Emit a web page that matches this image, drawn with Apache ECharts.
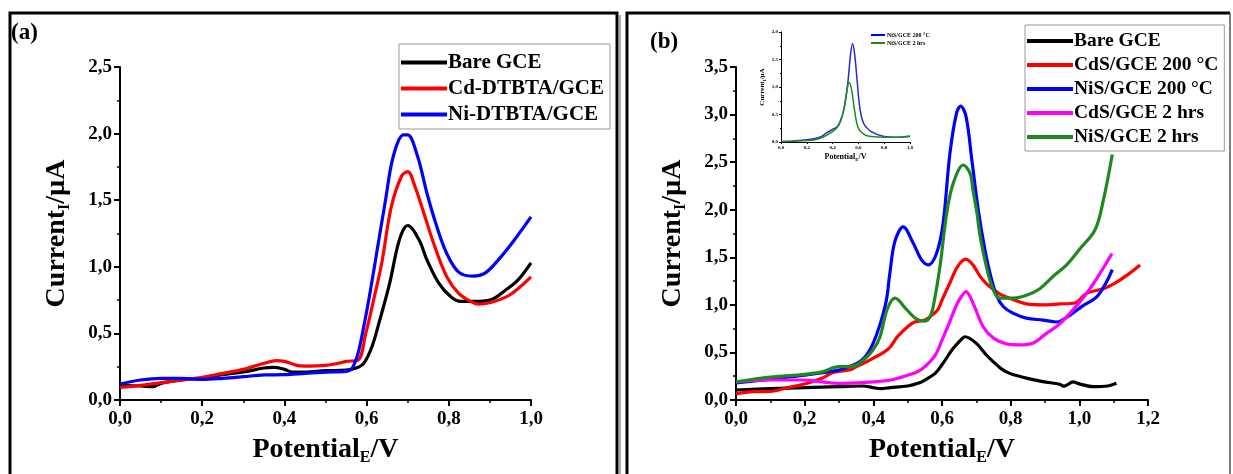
<!DOCTYPE html>
<html>
<head>
<meta charset="utf-8">
<script src="https://cdn.jsdelivr.net/npm/echarts@6/dist/echarts.min.js"></script>
<style>
  html, body { margin: 0; background: #fff; }
  #chart { width: 1233px; height: 474px; }
</style>
</head>
<body>
<div id="chart"></div>
<script>
// panel (a) - DPV curves, [potential V, current µA]
const bareA = [[0,0.11],[0.05,0.105],[0.08,0.10],[0.1,0.125],[0.15,0.15],[0.2,0.165],[0.25,0.19],[0.3,0.21],[0.35,0.24],[0.375,0.245],[0.4,0.23],[0.42,0.21],[0.45,0.21],[0.5,0.22],[0.55,0.225],[0.575,0.24],[0.593,0.275],[0.613,0.40],[0.632,0.60],[0.656,0.875],[0.675,1.15],[0.688,1.27],[0.70,1.31],[0.728,1.20],[0.747,1.05],[0.776,0.875],[0.805,0.775],[0.829,0.74],[0.862,0.74],[0.9,0.75],[0.94,0.83],[0.968,0.90],[1.0,1.03]]
const cdDtbta = [[0,0.095],[0.05,0.11],[0.1,0.13],[0.15,0.15],[0.2,0.17],[0.25,0.20],[0.3,0.23],[0.35,0.275],[0.38,0.295],[0.4,0.29],[0.43,0.26],[0.45,0.255],[0.5,0.26],[0.53,0.275],[0.55,0.29],[0.579,0.30],[0.598,0.50],[0.617,0.75],[0.637,1.03],[0.66,1.45],[0.685,1.68],[0.70,1.715],[0.718,1.60],[0.742,1.375],[0.766,1.15],[0.795,0.925],[0.824,0.80],[0.853,0.74],[0.872,0.72],[0.91,0.74],[0.949,0.79],[1.0,0.925]]
const niDtbta = [[0,0.12],[0.05,0.15],[0.1,0.163],[0.15,0.163],[0.2,0.155],[0.25,0.163],[0.3,0.175],[0.35,0.188],[0.4,0.19],[0.45,0.2],[0.5,0.21],[0.55,0.215],[0.565,0.24],[0.579,0.35],[0.593,0.55],[0.608,0.80],[0.627,1.15],[0.646,1.50],[0.665,1.83],[0.69,1.99],[0.70,1.99],[0.724,1.83],[0.747,1.55],[0.771,1.30],[0.795,1.10],[0.824,0.96],[0.858,0.93],[0.887,0.95],[0.92,1.05],[0.959,1.20],[1.0,1.375]]

// panel (b)
const bareB = [[0,0.105],[0.1,0.12],[0.2,0.13],[0.3,0.14],[0.37,0.147],[0.4,0.13],[0.42,0.12],[0.45,0.13],[0.5,0.147],[0.53,0.175],[0.55,0.21],[0.58,0.28],[0.6,0.37],[0.63,0.53],[0.66,0.65],[0.667,0.665],[0.7,0.595],[0.73,0.47],[0.75,0.40],[0.772,0.33],[0.797,0.28],[0.83,0.245],[0.846,0.23],[0.894,0.193],[0.943,0.165],[0.956,0.145],[0.982,0.19],[1.0,0.17],[1.04,0.14],[1.083,0.147],[1.108,0.175]]
const cds200 = [[0,0.065],[0.05,0.087],[0.1,0.09],[0.15,0.13],[0.2,0.168],[0.25,0.228],[0.28,0.287],[0.3,0.30],[0.33,0.315],[0.35,0.35],[0.38,0.40],[0.4,0.44],[0.43,0.50],[0.45,0.56],[0.47,0.665],[0.5,0.77],[0.52,0.82],[0.55,0.84],[0.57,0.89],[0.588,0.95],[0.6,1.05],[0.623,1.23],[0.645,1.40],[0.669,1.48],[0.69,1.42],[0.711,1.30],[0.73,1.22],[0.75,1.16],[0.77,1.11],[0.797,1.07],[0.846,1.01],[0.894,1.0],[0.943,1.01],[0.987,1.02],[1.021,1.12],[1.07,1.17],[1.1,1.22],[1.138,1.31],[1.177,1.42]]
const nis200 = [[0,0.18],[0.1,0.22],[0.2,0.26],[0.3,0.315],[0.33,0.35],[0.36,0.40],[0.38,0.47],[0.4,0.60],[0.42,0.80],[0.438,1.05],[0.448,1.33],[0.463,1.67],[0.487,1.82],[0.516,1.65],[0.541,1.47],[0.56,1.42],[0.584,1.54],[0.603,1.85],[0.623,2.59],[0.642,3.01],[0.654,3.09],[0.67,2.98],[0.687,2.52],[0.706,1.99],[0.725,1.58],[0.742,1.30],[0.76,1.09],[0.779,0.98],[0.808,0.91],[0.846,0.86],[0.894,0.84],[0.933,0.82],[0.972,0.89],[1.01,0.99],[1.05,1.08],[1.079,1.24],[1.096,1.37]]
const cds2h = [[0,0.19],[0.1,0.21],[0.2,0.21],[0.25,0.19],[0.3,0.175],[0.35,0.18],[0.4,0.19],[0.45,0.21],[0.5,0.26],[0.53,0.30],[0.55,0.35],[0.58,0.47],[0.6,0.63],[0.62,0.80],[0.64,0.98],[0.655,1.08],[0.67,1.14],[0.69,1.02],[0.72,0.77],[0.75,0.65],[0.788,0.59],[0.827,0.58],[0.866,0.60],[0.904,0.70],[0.943,0.80],[0.982,0.95],[1.021,1.12],[1.06,1.33],[1.095,1.54]]
const nis2h = [[0,0.19],[0.1,0.24],[0.2,0.27],[0.25,0.296],[0.3,0.35],[0.33,0.35],[0.36,0.385],[0.4,0.53],[0.42,0.67],[0.44,0.95],[0.463,1.07],[0.497,0.95],[0.526,0.85],[0.55,0.83],[0.566,0.88],[0.578,1.05],[0.594,1.40],[0.614,1.97],[0.633,2.28],[0.662,2.47],[0.682,2.38],[0.69,2.21],[0.702,1.96],[0.711,1.72],[0.725,1.47],[0.745,1.20],[0.769,1.07],[0.808,1.07],[0.846,1.10],[0.885,1.17],[0.924,1.30],[0.963,1.42],[1.002,1.59],[1.046,1.79],[1.07,2.10],[1.096,2.58]]

// inset of panel (b)
const insetNis200 = [[0,0.01],[0.1,0.02],[0.2,0.04],[0.3,0.085],[0.35,0.16],[0.4,0.23],[0.44,0.29],[0.48,0.52],[0.5,0.76],[0.52,1.12],[0.54,1.61],[0.555,1.79],[0.57,1.61],[0.59,1.12],[0.61,0.64],[0.64,0.34],[0.7,0.19],[0.8,0.10],[0.9,0.085],[1.0,0.10]]
const insetNis2h = [[0,0.01],[0.1,0.015],[0.2,0.025],[0.3,0.065],[0.4,0.19],[0.45,0.31],[0.48,0.52],[0.5,0.76],[0.52,1.05],[0.53,1.08],[0.55,0.91],[0.57,0.58],[0.6,0.25],[0.65,0.13],[0.7,0.10],[0.8,0.085],[0.9,0.085],[1.0,0.11]]

const namesA = ['Bare GCE', 'Cd-DTBTA/GCE', 'Ni-DTBTA/GCE']
const namesB = ['Bare GCE ', 'CdS/GCE 200 °C', 'NiS/GCE 200 °C', 'CdS/GCE 2 hrs', 'NiS/GCE 2 hrs']
const namesInset = ['NiS/GCE 200 °C', 'NiS/GCE 2 hrs']

const serif = '"Liberation Serif", "Times New Roman", serif'
const comma = v => v.toFixed(1).replace('.', ',')

// axis name with subscript, e.g. Current_I/µA
const subName = (a, s, b) => `{t|${a}}{s|${s}}{t|${b}}`
const nameRich = (big, small, drop) => ({
    rich: {
        t: { fontFamily: serif, fontWeight: 'bold', fontSize: big, color: '#000' },
        s: { fontFamily: serif, fontWeight: 'bold', fontSize: small, color: '#000', padding: [drop, 0, 0, 0] }
    }
})

const makeX = (grid, max, small) => ({
    type: 'value', gridIndex: grid, min: 0, max: max, interval: 0.2,
    name: subName('Potential', 'E', '/V'), nameLocation: 'middle',
    nameGap: small ? 10 : 34,
    nameTextStyle: small ? nameRich(8, 5, 5) : nameRich(28, 16, 16),
    axisLine: { show: true, onZero: false, lineStyle: { color: '#000', width: small ? 1 : 2 } },
    axisTick: { show: true, length: small ? 2 : 6, lineStyle: { color: '#000', width: small ? 1 : 2 } },
    minorTick: { show: true, splitNumber: 2, length: small ? 1 : 3, lineStyle: { color: '#000', width: small ? 1 : 1.5 } },
    axisLabel: { formatter: comma, fontFamily: serif, fontWeight: 'bold', fontSize: small ? 5 : 19, color: '#000', margin: small ? 3 : 10 },
    splitLine: { show: false }
})

const makeY = (grid, max, small) => ({
    type: 'value', gridIndex: grid, min: 0, max: max, interval: 0.5,
    name: subName('Current', 'I', '/µA'), nameLocation: 'middle',
    nameGap: small ? 14 : 47,
    nameTextStyle: small ? nameRich(7, 5, 5) : nameRich(28, 16, 16),
    axisLine: { show: true, onZero: false, lineStyle: { color: '#000', width: small ? 1 : 2 } },
    axisTick: { show: true, length: small ? 2 : 6, lineStyle: { color: '#000', width: small ? 1 : 2 } },
    minorTick: { show: true, splitNumber: 2, length: small ? 1 : 3, lineStyle: { color: '#000', width: small ? 1 : 1.5 } },
    axisLabel: { formatter: comma, fontFamily: serif, fontWeight: 'bold', fontSize: small ? 5 : 19, color: '#000', margin: small ? 3 : 8 },
    splitLine: { show: false }
})

const line = (name, data, color, axis, width) => ({
    type: 'line', name: name, data: data, xAxisIndex: axis, yAxisIndex: axis,
    showSymbol: false, smooth: 0.35,
    lineStyle: { color: color, width: width || 3.2 }, itemStyle: { color: color }
})

const legendBase = {
    orient: 'vertical', icon: 'rect', itemWidth: 46, itemHeight: 4,
    borderColor: '#999', borderWidth: 1, backgroundColor: '#fff',
    textStyle: { fontFamily: serif, fontWeight: 'bold', fontSize: 21, color: '#000', padding: [0, 0, 0, -4] }
}

const chart = echarts.init(document.getElementById('chart'))
chart.setOption({
    backgroundColor: '#fff',
    animation: false,
    grid: [
        { left: 120, top: 67, width: 411, height: 333 },
        { left: 736, top: 67, width: 412, height: 333 },
        { left: 781, top: 32, width: 129, height: 110 }
    ],
    xAxis: [makeX(0, 1.0), makeX(1, 1.2), makeX(2, 1.0, true)],
    yAxis: [makeY(0, 2.5), makeY(1, 3.5), makeY(2, 2.0, true)],
    legend: [
        Object.assign({}, legendBase, { data: namesA, left: 399, top: 44, itemGap: 5, padding: [8, 6, 4, 2] }),
        Object.assign({}, legendBase, { data: namesB, left: 1025, top: 25, itemGap: 4, padding: [6, 6, 4, 2], textStyle: Object.assign({}, legendBase.textStyle, { fontSize: 19.5 }) }),
        { data: namesInset, orient: 'vertical', left: 870, top: 31, icon: 'rect', itemWidth: 14, itemHeight: 2, itemGap: 2, padding: 1,
          textStyle: { fontFamily: serif, fontWeight: 'bold', fontSize: 6, color: '#000', padding: [0, 0, 0, -3] } }
    ],
    series: [
        line(namesA[0], bareA, '#000000', 0),
        line(namesA[1], cdDtbta, '#ff0000', 0),
        line(namesA[2], niDtbta, '#0000ff', 0),
        line(namesB[0], bareB, '#000000', 1),
        line(namesB[1], cds200, '#ff0000', 1),
        line(namesB[2], nis200, '#0000ff', 1),
        line(namesB[3], cds2h, '#ff00ff', 1),
        line(namesB[4], nis2h, '#1e8a1e', 1),
        line(namesInset[0], insetNis200, '#2a2ad0', 2, 1.5),
        line(namesInset[1], insetNis2h, '#1e8a1e', 2, 1.5)
    ],
    graphic: [
        // panel frames
        { type: 'polyline', shape: { points: [[10, 480], [10, 13], [617, 13], [617, 480]] }, style: { stroke: '#000', lineWidth: 3, fill: null } },
        { type: 'line', shape: { x1: 620, y1: 15, x2: 620, y2: 480 }, style: { stroke: '#aaa', lineWidth: 2 } },
        { type: 'polyline', shape: { points: [[627, 480], [627, 13], [1230, 13]] }, style: { stroke: '#000', lineWidth: 3, fill: null } },
        { type: 'line', shape: { x1: 1230, y1: 13, x2: 1230, y2: 480 }, style: { stroke: '#555', lineWidth: 1.5 } },
        { type: 'text', left: 11, top: 22, style: { text: '(a)', font: 'bold 23px ' + serif, fill: '#000' } },
        { type: 'text', left: 650, top: 31, style: { text: '(b)', font: 'bold 23px ' + serif, fill: '#000' } }
    ]
})
</script>
</body>
</html>
